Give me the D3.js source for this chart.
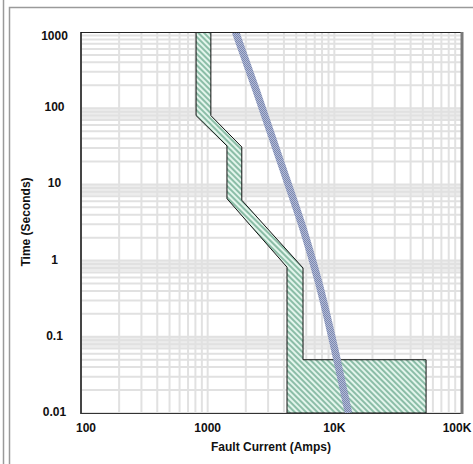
<!DOCTYPE html>
<meta charset="utf-8">
<style>
body { margin: 0; background: #fff; }
text { font-family: "Liberation Sans", Arial, sans-serif; font-weight: bold; font-size: 12px; fill: #111; }
.grid line { stroke: #e1e1e1; stroke-width: 2px; }
.grid rect { fill: #ececec; }
</style>
<svg width="473" height="464"></svg>
<script src="https://d3js.org/d3.v7.min.js"></script>
<script>
// tick values and labels
var xTicks = [100, 1000, 10000, 100000];
var xTickLabels = ["100", "1000", "10K", "100K"];
var yTicks = [0.01, 0.1, 1, 10, 100, 1000];
var yTickLabels = ["0.01", "0.1", "1", "10", "100", "1000"];

// fuse band: minimum melt (left edge) and total clearing (right edge)
var meltAmps = [810, 810, 1420, 1420, 4230, 4230];
var meltSec = [1000, 80, 32, 6.5, 0.82, 0.01];
var clearAmps = [1060, 1060, 1860, 1860, 5660, 5660, 53000, 53000];
var clearSec = [1000, 80, 31, 6.2, 0.8, 0.05, 0.05, 0.01];

// relay curve
var relayAmps = [1660, 2410, 4210, 5710, 7430, 10500, 12940];
var relaySec = [1000, 173, 11.4, 2.52, 0.556, 0.05, 0.01];

var svg = d3.select("svg");

var x = d3.scaleLog().domain([100, 100000]).range([81, 461]);
var y = d3.scaleLog().domain([0.01, 1000]).range([413, 32]);

// outer frame bits
svg.append("line").attr("x1", 3.5).attr("x2", 3.5).attr("y1", 0).attr("y2", 464)
    .attr("stroke", "#9a9a9a").attr("stroke-width", 1.5);
svg.append("path").attr("d", "M9.5,464V7.5H473")
    .attr("fill", "none").attr("stroke", "#9a9a9a").attr("stroke-width", 1.5);

// patterns
var defs = svg.append("defs");
var hatch = defs.append("pattern")
    .attr("id", "hatch").attr("patternUnits", "userSpaceOnUse")
    .attr("width", 4).attr("height", 4)
    .attr("patternTransform", "rotate(-45)");
hatch.append("rect").attr("width", 4).attr("height", 4).attr("fill", "#e3f5ec");
hatch.append("line").attr("x1", 1).attr("x2", 1).attr("y1", 0).attr("y2", 4)
    .attr("stroke", "#5c9f82").attr("stroke-width", 1.3);

var dots = defs.append("pattern")
    .attr("id", "dots").attr("patternUnits", "userSpaceOnUse")
    .attr("width", 2).attr("height", 2);
dots.append("rect").attr("width", 2).attr("height", 2).attr("fill", "#b3bbd6");
dots.append("rect").attr("width", 1).attr("height", 1).attr("fill", "#7b88b0");
dots.append("rect").attr("x", 1).attr("y", 1).attr("width", 1).attr("height", 1).attr("fill", "#7b88b0");

defs.append("clipPath").attr("id", "plotclip")
  .append("rect").attr("x", 81).attr("y", 32).attr("width", 380).attr("height", 381);

// grid: every 1..9 inside each decade
var xGrid = [], yGrid = [];
[100, 1000, 10000].forEach(function(d) {
  for (var k = 1; k < 10; k++) xGrid.push(d * k);
});
[0.01, 0.1, 1, 10, 100].forEach(function(d) {
  for (var k = 1; k < 10; k++) yGrid.push(d * k);
});

var grid = svg.append("g").attr("class", "grid");
// shaded strip just under each decade line
grid.selectAll("rect").data([0.1, 1, 10, 100]).enter().append("rect")
    .attr("x", 81).attr("width", 380)
    .attr("y", function(d) { return y(d); })
    .attr("height", function(d) { return y(d * 0.72) - y(d); });
grid.selectAll(".v").data(xGrid).enter().append("line")
    .attr("x1", function(d) { return x(d); }).attr("x2", function(d) { return x(d); })
    .attr("y1", 32).attr("y2", 413);
grid.selectAll(".h").data(yGrid).enter().append("line")
    .attr("x1", 81).attr("x2", 461)
    .attr("y1", function(d) { return y(d); }).attr("y2", function(d) { return y(d); });

var plot = svg.append("g").attr("clip-path", "url(#plotclip)");

// fuse band polygon
var melt = meltAmps.map(function(a, i) { return [a, meltSec[i]]; });
var clear = clearAmps.map(function(a, i) { return [a, clearSec[i]]; });
var band = melt.concat(clear.slice().reverse());

plot.append("path")
    .datum(band)
    .attr("d", function(d) {
      return d3.line().x(function(p) { return x(p[0]); }).y(function(p) { return y(p[1]); })(d) + "Z";
    })
    .attr("fill", "url(#hatch)")
    .attr("stroke", "#111")
    .attr("stroke-width", 1);

// relay curve drawn as a thick dotted band
var relay = relayAmps.map(function(a, i) { return [a, relaySec[i]]; });
plot.append("path")
    .datum(relay)
    .attr("d", d3.line()
      .curve(d3.curveMonotoneY)
      .x(function(d) { return x(d[0]); })
      .y(function(d) { return y(d[1]); }))
    .attr("fill", "none")
    .attr("stroke", "url(#dots)")
    .attr("stroke-width", 7.5);

// plot frame
svg.append("line").attr("x1", 81).attr("x2", 463).attr("y1", 32.5).attr("y2", 32.5)
    .attr("stroke", "#222").attr("stroke-width", 1);
svg.append("line").attr("x1", 81).attr("x2", 81).attr("y1", 32).attr("y2", 414)
    .attr("stroke", "#111").attr("stroke-width", 1.5);
svg.append("line").attr("x1", 81).attr("x2", 463).attr("y1", 413.5).attr("y2", 413.5)
    .attr("stroke", "#333").attr("stroke-width", 1.2);
svg.append("line").attr("x1", 462).attr("x2", 462).attr("y1", 32).attr("y2", 414)
    .attr("stroke", "#7a7a7a").attr("stroke-width", 3);

// tick labels (first and last nudged inward like the original)
svg.append("g").selectAll("text").data(xTicks).enter().append("text")
    .attr("x", function(d, i) { return x(d) + (i === 0 ? 5 : i === xTicks.length - 1 ? -4 : 0); })
    .attr("y", 432)
    .attr("text-anchor", "middle")
    .text(function(d, i) { return xTickLabels[i]; });

svg.append("g").selectAll("text").data(yTicks).enter().append("text")
    .attr("x", 54.5)
    .attr("y", function(d, i) { return y(d) + (i === yTicks.length - 1 ? 8 : 3); })
    .attr("text-anchor", "middle")
    .text(function(d, i) { return yTickLabels[i]; });

// axis titles
svg.append("text")
    .attr("x", 271).attr("y", 451)
    .attr("text-anchor", "middle")
    .text("Fault Current (Amps)");

svg.append("text")
    .attr("transform", "translate(30,222) rotate(-90)")
    .attr("text-anchor", "middle")
    .text("Time (Seconds)");
</script>
